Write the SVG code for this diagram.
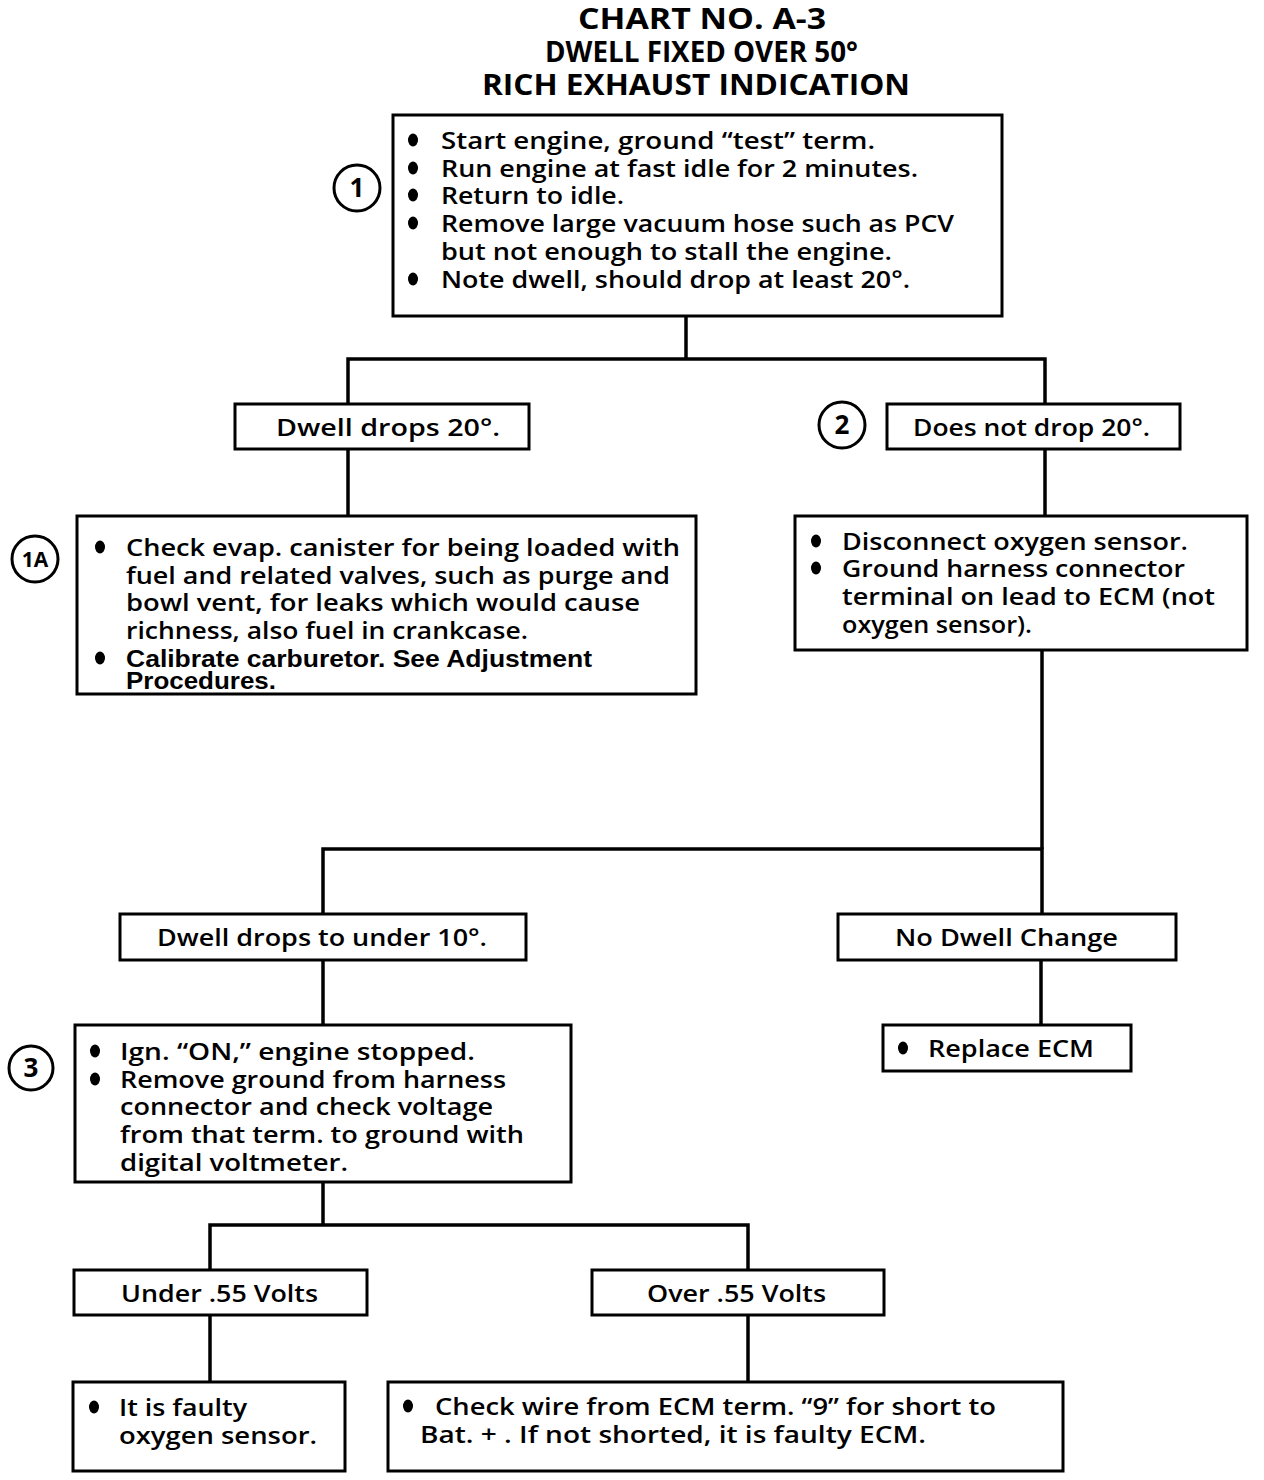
<svg xmlns="http://www.w3.org/2000/svg" width="1264" height="1480" viewBox="0 0 1264 1480">
<style>
.box{fill:#fff;stroke:#000;stroke-width:3}
.ln{fill:none;stroke:#000;stroke-width:3.5}
.t{font-family:"Open Sans","DejaVu Sans",sans-serif;font-weight:600;font-size:24px;fill:#000}
.n{font-family:"Liberation Sans Narrow","Liberation Sans",sans-serif;font-weight:700}
.tt{font-family:"Open Sans","DejaVu Sans",sans-serif;font-weight:700;font-size:29px;fill:#000}
.c{fill:#fff;stroke:#000;stroke-width:3}
.cn{font-family:"Open Sans","DejaVu Sans",sans-serif;font-weight:700;font-size:26px;fill:#000;text-anchor:middle}
.b{fill:#000}
</style>
<rect width="1264" height="1480" fill="#fff"/>
<g id="title">
<text class="tt" x="578" y="29" textLength="248" lengthAdjust="spacingAndGlyphs">CHART NO. A-3</text>
<text class="tt" x="545" y="62" textLength="313" lengthAdjust="spacingAndGlyphs">DWELL FIXED OVER 50°</text>
<text class="tt" x="482" y="95" textLength="428" lengthAdjust="spacingAndGlyphs">RICH EXHAUST INDICATION</text>
</g>
<g id="connectors">
<polyline class="ln" points="686,316 686,359"/>
<polyline class="ln" points="348,404 348,359 1045,359 1045,404"/>
<polyline class="ln" points="348,449 348,516"/>
<polyline class="ln" points="1045,449 1045,516"/>
<polyline class="ln" points="1042,650 1042,849"/>
<polyline class="ln" points="323,914 323,849 1042,849 1042,914"/>
<polyline class="ln" points="323,960 323,1025"/>
<polyline class="ln" points="1041,960 1041,1025"/>
<polyline class="ln" points="323,1182 323,1225"/>
<polyline class="ln" points="210,1270 210,1225 748,1225 748,1270"/>
<polyline class="ln" points="210,1315 210,1382"/>
<polyline class="ln" points="748,1315 748,1382"/>
</g>
<g id="node1">
<rect class="box" x="393" y="115" width="609" height="201"/>
<ellipse class="b" cx="413" cy="140" rx="5" ry="6.5"/>
<ellipse class="b" cx="413" cy="168" rx="5" ry="6.5"/>
<ellipse class="b" cx="413" cy="195" rx="5" ry="6.5"/>
<ellipse class="b" cx="413" cy="223" rx="5" ry="6.5"/>
<ellipse class="b" cx="413" cy="279" rx="5" ry="6.5"/>
<text class="t" x="441" y="149" textLength="434" lengthAdjust="spacingAndGlyphs">Start engine, ground “test” term.</text>
<text class="t" x="441" y="177" textLength="477" lengthAdjust="spacingAndGlyphs">Run engine at fast idle for 2 minutes.</text>
<text class="t" x="441" y="204" textLength="183" lengthAdjust="spacingAndGlyphs">Return to idle.</text>
<text class="t" x="441" y="232" textLength="513" lengthAdjust="spacingAndGlyphs">Remove large vacuum hose such as PCV</text>
<text class="t" x="441" y="260" textLength="451" lengthAdjust="spacingAndGlyphs">but not enough to stall the engine.</text>
<text class="t" x="441" y="288" textLength="469" lengthAdjust="spacingAndGlyphs">Note dwell, should drop at least 20°.</text>
</g>
<g id="label1"><circle class="c" cx="357" cy="188" r="23"/><text class="cn" x="357" y="197">1</text></g>
<g id="node-dwell-drops">
<rect class="box" x="235" y="404" width="294" height="45"/>
<text class="t" x="276" y="436" textLength="224" lengthAdjust="spacingAndGlyphs">Dwell drops 20°.</text>
</g>
<g id="label2"><circle class="c" cx="842" cy="425" r="23"/><text class="cn" x="842" y="434">2</text></g>
<g id="node-not-drop">
<rect class="box" x="887" y="404" width="293" height="45"/>
<text class="t" x="913" y="436" textLength="237" lengthAdjust="spacingAndGlyphs">Does not drop 20°.</text>
</g>
<g id="node1A">
<rect class="box" x="77" y="516" width="619" height="178"/>
<ellipse class="b" cx="100" cy="547" rx="5" ry="6.5"/>
<ellipse class="b" cx="100" cy="658" rx="5" ry="6.5"/>
<text class="t" x="126" y="556" textLength="554" lengthAdjust="spacingAndGlyphs">Check evap. canister for being loaded with</text>
<text class="t" x="126" y="584" textLength="544" lengthAdjust="spacingAndGlyphs">fuel and related valves, such as purge and</text>
<text class="t" x="126" y="611" textLength="514" lengthAdjust="spacingAndGlyphs">bowl vent, for leaks which would cause</text>
<text class="t" x="126" y="639" textLength="402" lengthAdjust="spacingAndGlyphs">richness, also fuel in crankcase.</text>
<text class="t n" x="126" y="667" textLength="466" lengthAdjust="spacingAndGlyphs">Calibrate carburetor. See Adjustment</text>
<text class="t n" x="126" y="689" textLength="150" lengthAdjust="spacingAndGlyphs">Procedures.</text>
</g>
<g id="label1A"><circle class="c" cx="35" cy="559" r="23"/><text class="cn" x="35" y="567" style="font-size:21px">1A</text></g>
<g id="node-disconnect">
<rect class="box" x="795" y="516" width="452" height="134"/>
<ellipse class="b" cx="816" cy="541" rx="5" ry="6.5"/>
<ellipse class="b" cx="816" cy="568" rx="5" ry="6.5"/>
<text class="t" x="842" y="550" textLength="346" lengthAdjust="spacingAndGlyphs">Disconnect oxygen sensor.</text>
<text class="t" x="842" y="577" textLength="343" lengthAdjust="spacingAndGlyphs">Ground harness connector</text>
<text class="t" x="842" y="605" textLength="373" lengthAdjust="spacingAndGlyphs">terminal on lead to ECM (not</text>
<text class="t" x="842" y="633" textLength="190" lengthAdjust="spacingAndGlyphs">oxygen sensor).</text>
</g>
<g id="node-under10">
<rect class="box" x="120" y="914" width="406" height="46"/>
<text class="t" x="157" y="946" textLength="330" lengthAdjust="spacingAndGlyphs">Dwell drops to under 10°.</text>
</g>
<g id="node-nochange">
<rect class="box" x="838" y="914" width="338" height="46"/>
<text class="t" x="895" y="946" textLength="223" lengthAdjust="spacingAndGlyphs">No Dwell Change</text>
</g>
<g id="node3">
<rect class="box" x="75" y="1025" width="496" height="157"/>
<ellipse class="b" cx="95" cy="1051" rx="5" ry="6.5"/>
<ellipse class="b" cx="95" cy="1079" rx="5" ry="6.5"/>
<text class="t" x="120" y="1060" textLength="355" lengthAdjust="spacingAndGlyphs">Ign. “ON,” engine stopped.</text>
<text class="t" x="120" y="1088" textLength="386" lengthAdjust="spacingAndGlyphs">Remove ground from harness</text>
<text class="t" x="120" y="1115" textLength="373" lengthAdjust="spacingAndGlyphs">connector and check voltage</text>
<text class="t" x="120" y="1143" textLength="404" lengthAdjust="spacingAndGlyphs">from that term. to ground with</text>
<text class="t" x="120" y="1171" textLength="228" lengthAdjust="spacingAndGlyphs">digital voltmeter.</text>
</g>
<g id="label3"><circle class="c" cx="31" cy="1068" r="22"/><text class="cn" x="31" y="1077">3</text></g>
<g id="node-replace">
<rect class="box" x="883" y="1025" width="248" height="46"/>
<ellipse class="b" cx="903" cy="1048" rx="5" ry="6.5"/>
<text class="t" x="928" y="1057" textLength="166" lengthAdjust="spacingAndGlyphs">Replace ECM</text>
</g>
<g id="node-under55">
<rect class="box" x="74" y="1270" width="293" height="45"/>
<text class="t" x="121" y="1302" textLength="197" lengthAdjust="spacingAndGlyphs">Under .55 Volts</text>
</g>
<g id="node-over55">
<rect class="box" x="592" y="1270" width="292" height="45"/>
<text class="t" x="647" y="1302" textLength="179" lengthAdjust="spacingAndGlyphs">Over .55 Volts</text>
</g>
<g id="node-faulty-sensor">
<rect class="box" x="73" y="1382" width="272" height="89"/>
<ellipse class="b" cx="94" cy="1407" rx="5" ry="6.5"/>
<text class="t" x="119" y="1416" textLength="128" lengthAdjust="spacingAndGlyphs">It is faulty</text>
<text class="t" x="119" y="1444" textLength="198" lengthAdjust="spacingAndGlyphs">oxygen sensor.</text>
</g>
<g id="node-check-wire">
<rect class="box" x="388" y="1382" width="675" height="89"/>
<ellipse class="b" cx="408" cy="1406" rx="5" ry="6.5"/>
<text class="t" x="435" y="1415" textLength="561" lengthAdjust="spacingAndGlyphs">Check wire from ECM term. “9” for short to</text>
<text class="t" x="420" y="1443" textLength="506" lengthAdjust="spacingAndGlyphs">Bat.  + . If not shorted, it is faulty ECM.</text>
</g>
</svg>
